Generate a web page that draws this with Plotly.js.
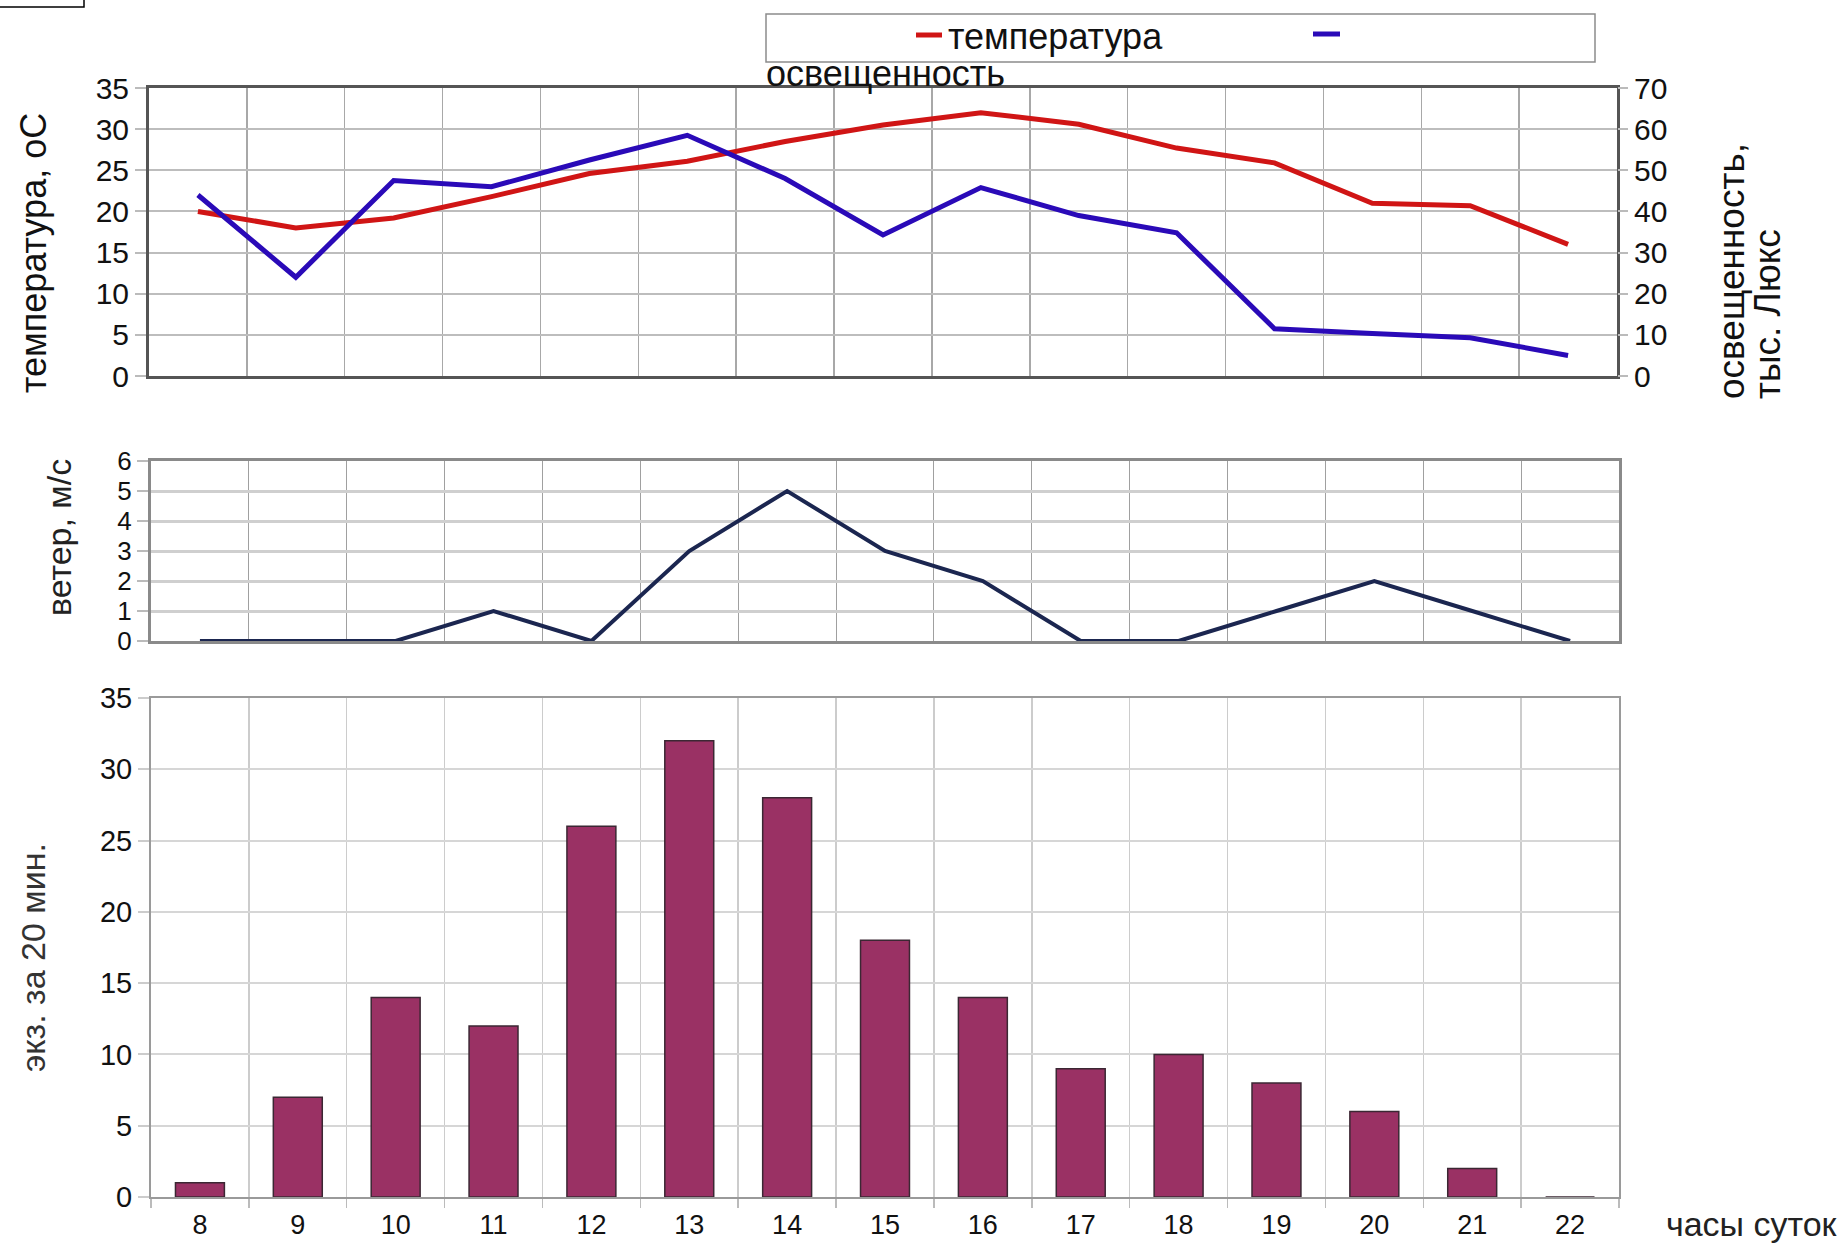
<!DOCTYPE html>
<html>
<head>
<meta charset="utf-8">
<script src="https://cdn.plot.ly/plotly-3.0.1.min.js"></script>
<style>html,body{margin:0;padding:0;background:#fff;}#chart{width:1846px;height:1244px;}</style>
</head>
<body>
<div id="chart"></div>
<script>
const hours = ['8','9','10','11','12','13','14','15','16','17','18','19','20','21','22'];
const temperature = [20, 18, 19.2, 21.8, 24.6, 26.1, 28.5, 30.5, 32, 30.6, 27.7, 25.9, 21, 20.7, 16];
const illumination = [44, 24, 47.5, 46, 52.5, 58.5, 48, 34.3, 45.8, 39, 34.8, 11.5, 10.3, 9.3, 5];
const wind = [0, 0, 0, 1, 0, 3, 5, 3, 2, 0, 0, 1, 2, 1, 0];
const counts = [1, 7, 14, 12, 26, 32, 28, 18, 14, 9, 10, 8, 6, 2, 0];
const seriesNames = ['температура', 'освещенность'];
const titleTemp = 'температура, оС';
const titleLight = ['освещенность,', 'тыс. Люкс'];
const titleWind = 'ветер, м/с';
const titleCount = 'экз. за 20 мин.';
const titleHours = 'часы суток';

const FONT = 'Liberation Sans, Arial, sans-serif';
const W = 1846, H = 1244;
const px = v => v / W;
const py = v => 1 - v / H;

const traces = [
  {x: hours, y: temperature, type: 'scatter', mode: 'lines', name: seriesNames[0],
   line: {color: '#d01515', width: 5}, xaxis: 'x', yaxis: 'y'},
  {x: hours, y: illumination, type: 'scatter', mode: 'lines', name: seriesNames[1],
   line: {color: '#2a0ab8', width: 5}, xaxis: 'x', yaxis: 'y2'},
  {x: hours, y: wind, type: 'scatter', mode: 'lines', name: 'ветер',
   line: {color: '#1b2650', width: 4}, xaxis: 'x2', yaxis: 'y3'},
  {x: hours, y: counts, type: 'bar', name: 'экз.', width: 0.5,
   marker: {color: '#9a3164', line: {color: '#3b2733', width: 1.5}}, xaxis: 'x3', yaxis: 'y4'}
];

const catAxis = (domain, extra) => Object.assign({
  type: 'category', domain: domain, categoryorder: 'array', categoryarray: hours,
  range: [-0.5, 14.5], tickson: 'boundaries', showgrid: true, zeroline: false,
  showline: true, mirror: true, automargin: false, fixedrange: true
}, extra);

const layout = {
  width: W, height: H,
  margin: {l: 0, r: 0, t: 0, b: 0, pad: 0},
  paper_bgcolor: '#ffffff', plot_bgcolor: '#ffffff',
  showlegend: false,
  font: {family: FONT, color: '#111'},
  xaxis: catAxis([px(149), px(1617)], {anchor: 'y', gridcolor: '#a8a8a8', gridwidth: 1.5,
    linecolor: '#555', linewidth: 3, showticklabels: false, ticks: ''}),
  yaxis: {domain: [py(376), py(88)], range: [0, 35], dtick: 5, tick0: 0, anchor: 'x',
    gridcolor: '#bdbdbd', gridwidth: 2, showline: true, mirror: true, linecolor: '#555', linewidth: 3,
    ticks: 'outside', ticklen: 11, tickwidth: 2, tickcolor: '#bbb', zeroline: false,
    tickfont: {size: 30, color: '#111'}, automargin: false},
  yaxis2: {overlaying: 'y', side: 'right', anchor: 'x', range: [0, 70], dtick: 10, tick0: 0,
    showgrid: false, zeroline: false, ticks: 'outside', ticklen: 10, tickwidth: 2, tickcolor: '#bbb',
    tickfont: {size: 30, color: '#111'}, automargin: false},
  xaxis2: catAxis([px(151), px(1619)], {anchor: 'y3', gridcolor: '#a0a0a0', gridwidth: 1,
    linecolor: '#8a8a8a', linewidth: 3, showticklabels: false, ticks: ''}),
  yaxis3: {domain: [py(641), py(461)], range: [0, 6], dtick: 1, tick0: 0, anchor: 'x2',
    gridcolor: '#cfcfcf', gridwidth: 3, showline: true, mirror: true, linecolor: '#8a8a8a', linewidth: 3,
    ticks: 'outside', ticklen: 11, tickwidth: 2, tickcolor: '#bbb', zeroline: false,
    tickfont: {size: 26, color: '#111'}, automargin: false},
  xaxis3: catAxis([px(151), px(1619)], {anchor: 'y4', gridcolor: '#cccccc', gridwidth: 1.5,
    linecolor: '#9a9a9a', linewidth: 2, ticks: 'outside', ticklen: 9, tickwidth: 1.5, tickcolor: '#bbb',
    tickfont: {size: 27, color: '#111'}, ticklabelstandoff: 3}),
  yaxis4: {domain: [py(1197), py(698)], range: [0, 35], dtick: 5, tick0: 0, anchor: 'x3',
    gridcolor: '#d6d6d6', gridwidth: 2, showline: true, mirror: true, linecolor: '#9a9a9a', linewidth: 2,
    ticks: 'outside', ticklen: 11, tickwidth: 2, tickcolor: '#ccc', zeroline: false,
    tickfont: {size: 29, color: '#111'}, automargin: false},
  shapes: [
    {type: 'rect', xref: 'paper', yref: 'paper', x0: -0.01, x1: px(84), y0: py(7), y1: 1.01,
     line: {color: '#000', width: 1.5}},
    {type: 'rect', xref: 'paper', yref: 'paper', x0: px(766), x1: px(1595), y0: py(62), y1: py(14),
     line: {color: '#8c8c8c', width: 1.5}, fillcolor: '#fff'},
    {type: 'line', xref: 'paper', yref: 'paper', x0: px(916), x1: px(942), y0: py(35), y1: py(35),
     line: {color: '#d01515', width: 5}},
    {type: 'line', xref: 'paper', yref: 'paper', x0: px(1313), x1: px(1340), y0: py(34), y1: py(34),
     line: {color: '#2a0ab8', width: 5}}
  ],
  annotations: [
    {xref: 'paper', yref: 'paper', x: px(946), y: py(36), xanchor: 'left', yanchor: 'middle',
     text: seriesNames[0], showarrow: false, font: {size: 36, color: '#111'}},
    {xref: 'paper', yref: 'paper', x: px(764), y: py(73), xanchor: 'left', yanchor: 'middle',
     text: seriesNames[1], showarrow: false, font: {size: 36, color: '#111'}},
    {xref: 'paper', yref: 'paper', x: px(33), y: py(253), xanchor: 'center', yanchor: 'middle',
     textangle: -90, text: titleTemp, showarrow: false, font: {size: 36, color: '#111'}},
    {xref: 'paper', yref: 'paper', x: px(1731), y: py(401), xanchor: 'center', yanchor: 'bottom',
     textangle: -90, text: titleLight[0], showarrow: false, font: {size: 37, color: '#111'}},
    {xref: 'paper', yref: 'paper', x: px(1767), y: py(401), xanchor: 'center', yanchor: 'bottom',
     textangle: -90, text: titleLight[1], showarrow: false, font: {size: 37, color: '#111'}},
    {xref: 'paper', yref: 'paper', x: px(59), y: py(538), xanchor: 'center', yanchor: 'middle',
     textangle: -90, text: titleWind, showarrow: false, font: {size: 34, color: '#222'}},
    {xref: 'paper', yref: 'paper', x: px(33), y: py(958), xanchor: 'center', yanchor: 'middle',
     textangle: -90, text: titleCount, showarrow: false, font: {size: 34, color: '#333'}},
    {xref: 'paper', yref: 'paper', x: px(1752), y: py(1224), xanchor: 'center', yanchor: 'middle',
     text: titleHours, showarrow: false, font: {size: 34, color: '#222'}}
  ]
};

Plotly.newPlot('chart', traces, layout, {staticPlot: true, displayModeBar: false});
</script>
</body>
</html>
